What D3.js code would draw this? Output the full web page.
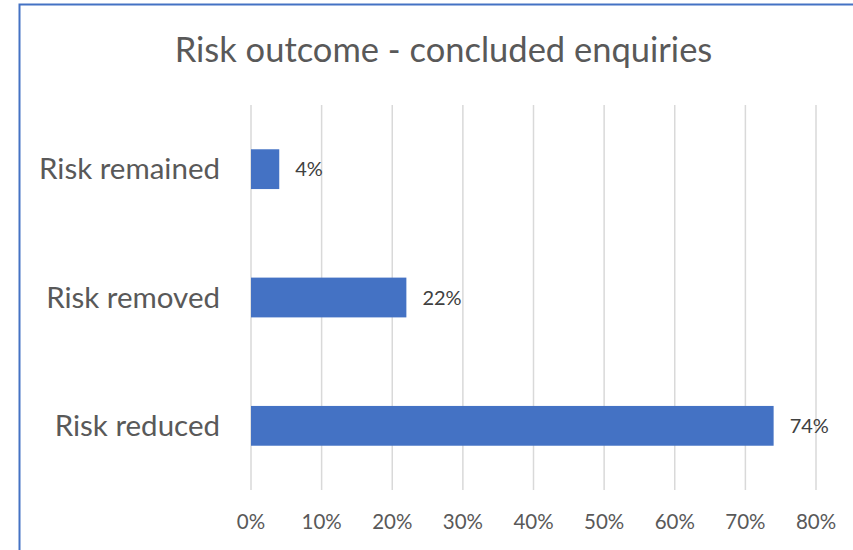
<!DOCTYPE html>
<html><head><meta charset="utf-8">
<script src="https://cdn.jsdelivr.net/npm/d3@7"></script>
<style>body{margin:0;background:#fff;}svg{display:block;font-family:Lato, "Open Sans", sans-serif;}</style>
</head><body>
<svg id="c" width="853" height="550"></svg>
<script>
const categories = ["Risk remained", "Risk removed", "Risk reduced"];
const values = [0.04, 0.22, 0.74];
const tickValues = [0, 0.1, 0.2, 0.3, 0.4, 0.5, 0.6, 0.7, 0.8];
const title = "Risk outcome - concluded enquiries";

const svg = d3.select("#c");
svg.append("rect").attr("x", 19.5).attr("y", 4.5).attr("width", 900).attr("height", 600)
  .attr("fill", "#fff").attr("stroke", "#4472C4").attr("stroke-width", 2);

const pL = 251, pR = 816, pT = 105, pB = 490;
const x = d3.scaleLinear().domain([0, 0.8]).range([pL, pR]);
const y = d3.scaleBand().domain(categories).range([pT, pB]).paddingInner(0.69).paddingOuter(0.345);

svg.append("g").selectAll("line").data(tickValues).join("line")
  .attr("x1", d => x(d)).attr("x2", d => x(d)).attr("y1", pT).attr("y2", pB)
  .attr("stroke", "#d9d9d9").attr("stroke-width", 1.5);

svg.append("g").selectAll("rect").data(values).join("rect")
  .attr("x", x(0)).attr("y", (d, i) => y(categories[i]))
  .attr("width", d => x(d) - x(0)).attr("height", y.bandwidth())
  .attr("fill", "#4472C4");

svg.append("g").selectAll("text").data(values).join("text")
  .attr("x", d => x(d) + 16).attr("y", (d, i) => y(categories[i]) + y.bandwidth() / 2)
  .attr("dy", "0.35em").attr("font-size", 20).attr("fill", "#404040")
  .text(d => d3.format(".0%")(d));

svg.append("g").selectAll("text").data(categories).join("text")
  .attr("x", 220).attr("y", d => y(d) + y.bandwidth() / 2)
  .attr("dy", "0.35em").attr("text-anchor", "end").attr("font-size", 29.5).attr("fill", "#595959")
  .text(d => d);

svg.append("g").selectAll("text").data(tickValues).join("text")
  .attr("x", d => x(d)).attr("y", 522).attr("dy", "0.35em").attr("text-anchor", "middle")
  .attr("font-size", 20.5).attr("fill", "#595959")
  .text(d => d3.format(".0%")(d));

svg.append("text").attr("x", 443.5).attr("y", 50).attr("dy", "0.35em").attr("text-anchor", "middle")
  .attr("font-size", 34.5).attr("fill", "#595959").text(title);
</script>
</body></html>
